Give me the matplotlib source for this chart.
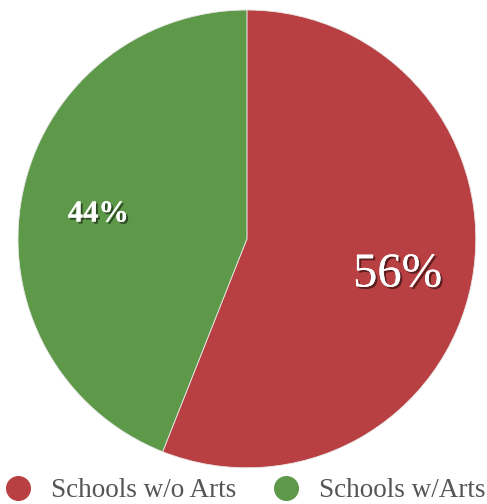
import matplotlib
matplotlib.use('Agg')
import matplotlib.pyplot as plt
import matplotlib.patheffects as pe
from matplotlib.lines import Line2D

# data
labels = ['Schools w/o Arts', 'Schools w/Arts']
shares = [56, 44]
colors = ['#B94042', '#5E994A']

fig = plt.figure(figsize=(4.87, 5.04), dpi=100, facecolor='white')
ax = fig.add_axes([0.507 - 0.47, 0.526 - 0.4544, 0.94, 0.9088])

wedges, texts, autotexts = ax.pie(
    shares, colors=colors, startangle=90, counterclock=False,
    autopct='%d%%', pctdistance=0.67,
    wedgeprops={'edgecolor': '#e8e8e8', 'linewidth': 0.6},
    textprops={'color': 'white', 'family': 'Liberation Serif'},
)
ax.set_xlim(-1, 1)
ax.set_ylim(-1, 1)
ax.set_aspect('equal')

shadow = [pe.withSimplePatchShadow(offset=(1.5, -1.5), shadow_rgbFace='black', alpha=0.5),
          pe.Normal()]
autotexts[0].set_fontsize(35)
autotexts[1].set_fontsize(22)
autotexts[1].set_fontweight('bold')
# small nudges so the labels sit where the reference has them
nudges = [(0.0, -0.03), (0.009, -0.017)]
for t, (dx, dy) in zip(autotexts, nudges):
    x, y = t.get_position()
    t.set_position((x + dx, y + dy))
    t.set_path_effects(shadow)

handles = [Line2D([0], [0], marker='o', linestyle='none', markersize=17,
                  markerfacecolor=c, markeredgecolor=c) for c in colors]
fig.legend(handles, labels, loc='center left', bbox_to_anchor=(0.010, 0.026),
           ncol=2, frameon=False, borderpad=0, borderaxespad=0,
           handlelength=1.0, handletextpad=0.72, columnspacing=1.33,
           prop={'family': 'Liberation Serif', 'size': 19.5}, labelcolor='#555555')

plt.savefig('out.png', dpi=100, facecolor='white')
